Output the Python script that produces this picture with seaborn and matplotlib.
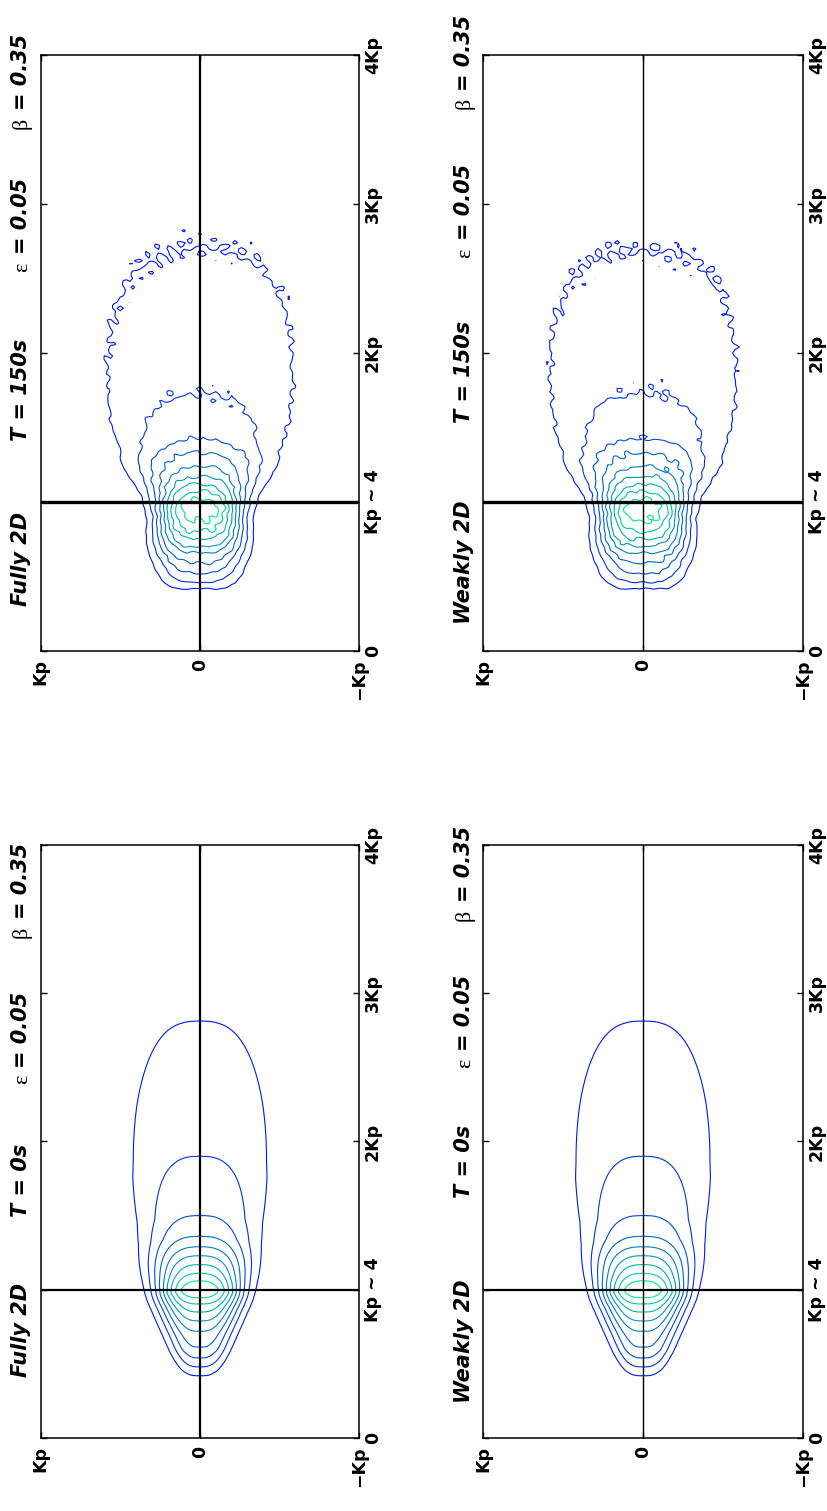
import numpy as np
import matplotlib
matplotlib.use("Agg")
import matplotlib.pyplot as plt
from matplotlib.colors import Normalize
import seaborn as sns

# Normalised spectral density along the mean wave direction at each contour
# crossing (wavenumber in units of the peak wavenumber Kp)
k_axis_t0 = [0.30, 0.42, 0.48, 0.54, 0.61, 0.72, 0.79, 0.85, 0.905, 0.945,
             1.00, 1.06, 1.11, 1.17, 1.23, 1.29, 1.36, 1.50, 1.90, 2.81, 4.60]
f_axis_t0 = [0.02, 0.10, 0.20, 0.30, 0.40, 0.50, 0.60, 0.70, 0.80, 0.90,
             1.00, 0.90, 0.80, 0.70, 0.60, 0.50, 0.40, 0.30, 0.20, 0.10, 0.04]
k_axis_t150 = [0.30, 0.42, 0.46, 0.52, 0.59, 0.66, 0.70, 0.75, 0.80, 0.87,
               0.96, 1.02, 1.07, 1.12, 1.17, 1.24, 1.33, 1.42, 1.72, 2.70, 4.60]
f_axis_t150 = [0.02, 0.10, 0.20, 0.30, 0.40, 0.50, 0.60, 0.70, 0.80, 0.90,
               1.00, 0.90, 0.80, 0.70, 0.60, 0.50, 0.40, 0.30, 0.20, 0.10, 0.03]

# Directional spreading width (radians) against wavenumber
k_spread_t0 = [0.30, 0.70, 1.00, 1.80, 2.30, 2.80, 4.60]
s_spread_t0 = [0.29, 0.28, 0.26, 0.255, 0.235, 0.21, 0.21]
k_spread_t150 = [0.30, 0.55, 0.75, 0.95, 1.10, 1.35, 1.70, 2.40, 4.60]
s_spread_t150 = [0.45, 0.44, 0.36, 0.27, 0.27, 0.34, 0.38, 0.36, 0.36]

# Sampling fluctuations of the simulated spectra at T = 150s
ripple_kx = [61.0, -47.0, 78.0, 38.0, -66.0, 89.0, 24.0, -83.0]
ripple_ky = [43.0, 71.0, -29.0, -84.0, 52.0, 17.0, -63.0, -38.0]
ripple_amp = [0.050, 0.045, 0.040, 0.040, 0.035, 0.030, 0.030, 0.030]
ripple_phase_fully = [0.3, 1.9, 4.1, 2.6, 5.3, 0.9, 3.7, 1.2]
ripple_phase_weakly = [2.2, 0.7, 1.5, 4.8, 3.1, 5.9, 0.4, 2.9]
ripple_scale = 0.27
ripple_power = 0.75

contour_levels = [0.1, 0.2, 0.3, 0.4, 0.5, 0.6, 0.7, 0.8, 0.9]

model_names = ["Fully 2D", "Weakly 2D"]
time_labels = ["T = 0s", "T = 150s"]
eps_value = "= 0.05"
beta_value = "= 0.35"

kx_ticks = [0, 1, 2, 3, 4]
kx_ticklabels = ["0", "Kp ~ 4", "2Kp", "3Kp", "4Kp"]
ky_ticks = [1, 0, -1]
ky_ticklabels = ["Kp", "0", "\u2212Kp"]

# ---------------------------------------------------------------- layout
# the page is printed in landscape and turned: kx runs up, ky runs left
FIG_W, FIG_H = 8.27, 15.11
col_left = {0: 0.0492, 1: 0.584}
col_width = {0: 0.385, 1: 0.387}
row_bottom = {"T = 150s": 0.5692, "T = 0s": 0.0483}
row_height = {"T = 150s": 0.3944, "T = 0s": 0.3925}
# positions of the header words along the kx side (axes fraction)
header_pos = {
    ("Fully 2D", "T = 150s"): dict(name=0.154, time=0.438, eps=0.643, eps_v=0.666, beta=0.886, beta_v=0.908),
    ("Weakly 2D", "T = 150s"): dict(name=0.149, time=0.468, eps=0.668, eps_v=0.690, beta=0.918, beta_v=0.939),
    ("Fully 2D", "T = 0s"): dict(name=0.182, time=0.435, eps=0.604, eps_v=0.624, beta=0.852, beta_v=0.875),
    ("Weakly 2D", "T = 0s"): dict(name=0.164, time=0.467, eps=0.632, eps_v=0.653, beta=0.882, beta_v=0.904),
}
header_x = {0: -0.043, 1: -0.041}

sns.set_theme(style="white")
plt.rcParams["font.family"] = ["DejaVu Sans"]
plt.rcParams["text.color"] = "black"
plt.rcParams["xtick.color"] = "black"
plt.rcParams["ytick.color"] = "black"
plt.rcParams["xtick.labelcolor"] = "black"
plt.rcParams["ytick.labelcolor"] = "black"

SANS = "DejaVu Sans"
SERIF = "Liberation Serif"
FS_HEAD = 15
FS_TICK = 12.5

kx = np.linspace(0.0, 4.0, 201)
ky = np.linspace(-1.0, 1.0, 101)
KX, KY = np.meshgrid(kx, ky, indexing="ij")


def spectrum(k_axis, f_axis, k_spread, s_spread, phases=None):
    k = np.hypot(KX, KY)
    theta = np.abs(np.arctan2(KY, KX))
    log_f = np.interp(k, k_axis, np.log(f_axis))
    spread = np.interp(k, k_spread, s_spread)
    field = np.exp(log_f - (theta / spread) ** 3)
    if phases is not None:
        fluct = np.zeros_like(field)
        for a, px, py, ph in zip(ripple_amp, ripple_kx, ripple_ky, phases):
            fluct += a * np.sin(px * KX + py * KY + ph)
        field = field + ripple_scale * field ** ripple_power * fluct
    return field


fields = {
    ("Fully 2D", "T = 0s"): spectrum(k_axis_t0, f_axis_t0, k_spread_t0, s_spread_t0),
    ("Weakly 2D", "T = 0s"): spectrum(k_axis_t0, f_axis_t0, k_spread_t0, s_spread_t0),
    ("Fully 2D", "T = 150s"): spectrum(k_axis_t150, f_axis_t150, k_spread_t150,
                                       s_spread_t150, ripple_phase_fully),
    ("Weakly 2D", "T = 150s"): spectrum(k_axis_t150, f_axis_t150, k_spread_t150,
                                        s_spread_t150, ripple_phase_weakly),
}

fig = plt.figure(figsize=(FIG_W, FIG_H), dpi=100)
norm = Normalize(vmin=0.0, vmax=1.0)

for col, model in enumerate(model_names):
    for time in time_labels:
        ax = fig.add_axes([col_left[col], row_bottom[time],
                           col_width[col], row_height[time]])
        ax.contour(KY, KX, fields[(model, time)], levels=contour_levels,
                   cmap="winter", norm=norm, linewidths=0.8)

        # mean direction and peak wavenumber
        cross_lw = 1.6 if model == "Fully 2D" else 1.0
        peak_lw = 2.4 if time == "T = 150s" else 1.6
        ax.axvline(0.0, color="black", lw=cross_lw, zorder=3)
        ax.axhline(1.0, color="black", lw=peak_lw, zorder=3)

        ax.set_xlim(1.0, -1.0)
        ax.set_ylim(0.0, 4.0)
        for sp in ax.spines.values():
            sp.set_visible(True)
            sp.set_color("black")
            sp.set_linewidth(1.1)

        ax.set_yticks(kx_ticks)
        ax.set_yticklabels(kx_ticklabels)
        ax.tick_params(axis="y", which="major", left=True, right=True,
                       labelleft=False, labelright=True, direction="in",
                       length=4, width=1.0, color="black", pad=3.5)
        for tick in ax.yaxis.get_major_ticks():
            lab = tick.label2
            lab.set_rotation(90)
            lab.set_ha("left")
            lab.set_va("center")
            lab.set_color("black")
            lab.set_fontfamily(SANS)
            lab.set_fontweight("bold")
            lab.set_fontsize(FS_TICK)

        ax.set_xticks(ky_ticks)
        ax.set_xticklabels(ky_ticklabels)
        ax.tick_params(axis="x", which="major", bottom=True, top=True,
                       labelbottom=True, labeltop=False, direction="in",
                       length=4, width=1.0, color="black", pad=6.0)
        for tick in ax.xaxis.get_major_ticks():
            lab = tick.label1
            lab.set_rotation(90)
            lab.set_ha("center")
            lab.set_va("top")
            lab.set_color("black")
            lab.set_fontfamily(SANS)
            lab.set_fontweight("bold")
            lab.set_fontsize(FS_TICK)
        ax.grid(False)

        # header line: model, time, steepness and spreading parameters
        pos = header_pos[(model, time)]
        hx = header_x[col]
        common = dict(transform=ax.transAxes, rotation=90, rotation_mode="anchor",
                      va="baseline", clip_on=False, color="black")
        ax.text(hx, pos["name"], model, ha="center", fontfamily=SANS,
                fontweight="bold", fontstyle="italic", fontsize=FS_HEAD, **common)
        ax.text(hx, pos["time"], time, ha="center", fontfamily=SANS,
                fontweight="bold", fontstyle="italic", fontsize=FS_HEAD, **common)
        ax.text(hx, pos["eps"], "\u03b5", ha="center", fontfamily=SERIF,
                fontsize=FS_HEAD + 1, **common)
        ax.text(hx, pos["eps_v"], eps_value, ha="left", fontfamily=SANS,
                fontweight="bold", fontstyle="italic", fontsize=FS_HEAD, **common)
        ax.text(hx, pos["beta"], "\u03b2", ha="center", fontfamily=SERIF,
                fontsize=FS_HEAD + 1, **common)
        ax.text(hx, pos["beta_v"], beta_value, ha="left", fontfamily=SANS,
                fontweight="bold", fontstyle="italic", fontsize=FS_HEAD, **common)

fig.savefig("out.png", dpi=100, facecolor="white")
